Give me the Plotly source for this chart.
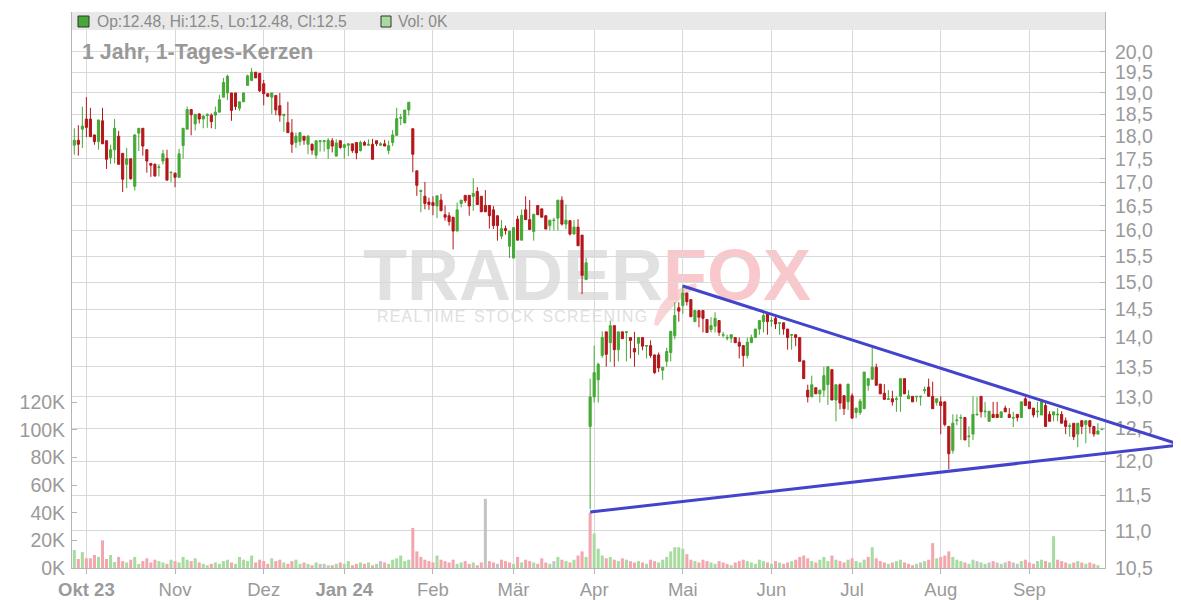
import math
import plotly.graph_objects as go

# ---------------- data ----------------
opens = [17.80,17.91,18.16,18.39,18.39,18.03,17.88,18.35,17.90,17.53,
17.70,18.00,17.62,17.38,17.50,16.91,18.07,18.18,17.70,17.40,
17.38,17.31,17.45,17.51,17.20,17.19,17.10,17.79,18.16,18.61,
18.28,18.51,18.39,18.47,18.48,18.48,18.55,18.90,19.00,19.00,
19.00,18.64,18.79,19.18,19.30,19.50,19.47,19.22,18.98,18.90,
18.94,18.70,18.47,18.31,18.08,17.86,17.88,18.00,17.82,17.82,
17.58,17.88,17.88,17.72,17.90,17.56,17.90,17.75,17.80,17.83,
17.86,17.68,17.86,17.80,17.82,17.90,17.80,17.83,17.68,17.86,
18.02,18.41,18.30,18.60,18.17,17.24,16.80,16.70,16.58,16.57,
16.50,16.62,16.32,16.30,16.27,15.99,16.55,16.72,16.72,16.70,
16.80,16.70,16.51,16.51,16.42,16.30,15.89,16.04,15.69,15.46,
16.23,15.81,16.42,16.22,15.98,16.51,16.44,16.30,16.10,16.20,
16.25,16.62,16.13,16.20,15.93,16.07,15.91,15.05,12.53,13.00,
13.28,13.69,14.10,13.91,14.21,13.79,14.10,14.09,14.00,13.81,
13.90,14.00,13.85,13.86,13.70,13.70,13.44,13.59,13.74,14.03,
14.53,14.57,14.80,14.68,14.28,14.48,14.48,14.32,14.14,14.20,
14.30,14.04,13.99,13.99,14.00,13.92,13.86,13.69,13.91,14.00,
14.15,14.28,14.42,14.29,14.34,14.25,14.26,14.15,14.04,14.05,
14.00,13.60,13.11,13.00,13.15,13.05,13.11,13.20,13.45,12.95,
13.20,13.02,12.92,13.02,12.75,12.75,12.81,13.19,13.29,13.49,
13.21,13.06,12.96,12.97,12.96,13.01,13.30,12.97,13.01,13.00,
13.00,13.10,13.16,13.01,12.91,12.92,12.92,12.53,12.16,12.62,
12.66,12.67,12.37,12.41,12.71,13.01,12.76,12.61,12.72,12.72,
12.67,12.82,12.72,12.66,12.72,12.67,12.97,12.92,12.82,12.76,
12.71,12.86,12.72,12.71,12.71,12.72,12.62,12.53,12.58,12.41,
12.62,12.56,12.62,12.53,12.41,12.48]

highs = [18.18,18.25,18.68,18.90,18.65,18.03,18.37,18.65,17.90,17.81,
18.39,18.12,17.62,17.74,17.50,18.05,18.18,18.18,17.70,17.40,
17.40,17.38,17.70,17.70,17.21,17.20,17.72,18.18,18.68,18.61,
18.50,18.51,18.48,18.52,18.52,18.68,18.96,19.36,19.44,19.00,
19.00,18.80,19.00,19.44,19.60,19.50,19.47,19.31,19.00,19.00,
18.94,19.00,18.50,18.79,18.39,18.08,18.08,18.00,18.03,17.84,
17.90,17.90,17.90,17.96,17.96,17.93,17.90,17.83,17.83,17.83,
17.86,17.90,17.90,17.93,17.94,17.90,17.87,17.92,17.90,18.14,
18.65,18.51,18.60,18.78,18.17,17.24,16.84,17.00,16.67,16.70,
16.71,16.75,16.51,16.37,16.27,16.57,16.62,16.72,16.72,17.08,
16.89,16.70,16.83,16.51,16.50,16.30,16.21,16.10,15.99,16.06,
16.30,16.43,16.70,16.62,16.33,16.51,16.44,16.30,16.21,16.26,
16.62,16.70,16.53,16.20,16.21,16.23,15.91,15.46,13.30,13.86,
13.57,14.11,14.10,14.30,14.21,14.10,14.10,14.10,14.00,14.10,
14.00,14.00,13.86,13.95,13.70,13.74,13.49,13.82,14.11,14.63,
14.63,14.95,14.80,14.68,14.48,14.48,14.48,14.32,14.36,14.45,
14.30,14.10,14.05,14.05,14.00,14.00,13.86,14.00,14.05,14.15,
14.30,14.48,14.42,14.36,14.37,14.26,14.26,14.15,14.05,14.05,
14.00,13.60,13.20,13.35,13.15,13.11,13.50,13.50,13.45,13.20,
13.22,13.02,13.21,13.06,12.82,12.97,13.41,13.30,13.82,13.55,
13.21,13.21,13.11,13.10,13.01,13.30,13.30,13.11,13.01,13.01,
13.01,13.17,13.30,13.25,12.97,13.01,12.92,12.53,12.72,12.72,
12.72,12.67,12.53,13.01,13.00,13.01,12.92,12.77,12.92,12.92,
12.76,12.86,12.82,12.76,12.72,12.92,13.01,12.92,12.82,12.92,
12.97,12.92,12.77,12.76,12.82,12.77,12.67,12.58,12.58,12.58,
12.62,12.62,12.62,12.53,12.58,12.50]

lows = [17.59,17.57,17.74,17.98,17.99,17.81,17.70,17.83,17.28,17.39,
17.40,17.38,16.79,16.87,17.05,16.82,17.67,17.57,17.20,17.11,
17.11,17.12,17.38,17.04,17.00,16.89,17.10,17.50,18.16,18.02,
18.13,18.29,18.18,18.19,18.18,18.16,18.55,18.90,18.83,18.35,
18.60,18.58,18.79,19.18,19.28,19.36,19.02,18.71,18.90,18.50,
18.48,18.33,18.10,18.08,17.63,17.74,17.79,17.81,17.60,17.59,
17.50,17.66,17.66,17.50,17.64,17.55,17.72,17.50,17.56,17.63,
17.49,17.66,17.79,17.78,17.49,17.78,17.78,17.78,17.60,17.78,
18.02,18.25,18.30,18.47,17.21,16.71,16.37,16.43,16.42,16.31,
16.25,16.40,16.20,16.10,15.63,15.99,16.47,16.56,16.30,16.40,
16.53,16.38,16.38,16.04,16.03,15.80,15.83,15.92,15.46,15.46,
15.81,15.81,16.22,16.02,15.80,16.32,16.27,16.03,16.00,16.00,
16.00,16.10,16.03,15.90,15.93,15.70,14.78,15.05,11.30,12.91,
12.91,13.65,13.50,13.58,13.50,13.59,13.98,13.59,13.64,13.50,
13.70,13.78,13.64,13.65,13.38,13.41,13.28,13.50,13.59,13.97,
14.28,14.42,14.57,14.36,14.28,14.18,14.09,14.09,14.09,14.09,
14.03,14.00,13.95,13.91,13.91,13.64,13.50,13.64,13.91,14.00,
14.05,14.09,14.05,14.19,14.15,14.05,14.05,13.79,13.79,13.85,
13.59,13.30,12.91,13.00,13.05,12.91,13.00,12.87,12.95,12.61,
12.80,12.71,12.79,12.66,12.66,12.71,12.81,13.10,13.29,13.19,
13.05,12.96,12.96,12.86,12.76,12.76,13.05,12.97,12.92,12.92,
12.86,13.05,13.01,12.81,12.86,12.41,12.53,11.88,12.11,12.55,
12.32,12.32,12.21,12.32,12.71,12.67,12.67,12.61,12.67,12.67,
12.67,12.76,12.67,12.52,12.61,12.67,12.86,12.81,12.67,12.67,
12.71,12.53,12.61,12.61,12.61,12.58,12.41,12.37,12.32,12.21,
12.41,12.27,12.42,12.37,12.41,12.48]

closes = [17.91,17.82,18.23,18.20,17.99,17.88,18.37,17.83,17.49,17.70,
18.18,17.38,17.06,17.50,17.07,18.03,18.18,17.78,17.45,17.36,
17.13,17.32,17.61,17.04,17.21,17.10,17.61,18.18,18.61,18.49,
18.50,18.39,18.46,18.50,18.33,18.55,18.84,19.25,19.40,18.59,
18.68,18.79,19.00,19.41,19.50,19.36,19.05,18.98,18.92,19.00,
18.60,18.48,18.50,18.08,17.82,18.00,18.08,17.91,18.00,17.69,
17.90,17.90,17.90,17.91,17.78,17.85,17.75,17.81,17.83,17.68,
17.63,17.86,17.80,17.82,17.49,17.83,17.83,17.78,17.79,18.03,
18.40,18.42,18.60,18.78,17.60,16.93,16.82,16.55,16.53,16.51,
16.71,16.40,16.27,16.18,15.99,16.42,16.62,16.61,16.50,16.76,
16.53,16.38,16.38,16.30,16.10,16.10,16.04,16.00,15.99,16.06,
15.81,16.31,16.22,16.02,16.33,16.32,16.27,16.03,16.21,16.21,
16.62,16.13,16.21,15.93,16.07,15.70,15.13,15.37,13.00,13.40,
13.54,14.00,13.71,14.21,13.79,14.10,13.98,14.10,13.95,13.75,
14.00,13.85,13.86,13.69,13.40,13.48,13.49,13.76,14.11,14.39,
14.47,14.80,14.64,14.37,14.48,14.36,14.34,14.09,14.21,14.34,
14.09,14.05,14.00,14.05,13.91,13.85,13.69,13.92,14.00,14.15,
14.30,14.39,14.28,14.30,14.24,14.26,14.15,14.00,14.05,14.00,
13.59,13.30,13.00,13.20,13.05,13.11,13.35,13.50,12.95,13.20,
12.90,12.81,13.21,12.66,12.82,12.93,13.41,13.30,13.49,13.19,
13.05,12.96,12.97,12.92,12.97,13.30,13.05,13.02,12.92,13.01,
13.01,13.12,13.01,12.81,12.97,12.86,12.56,12.11,12.58,12.63,
12.67,12.32,12.38,12.72,12.72,12.76,12.77,12.77,12.67,12.67,
12.76,12.76,12.67,12.67,12.67,12.92,12.86,12.81,12.71,12.77,
12.92,12.53,12.61,12.76,12.72,12.58,12.53,12.54,12.37,12.58,
12.53,12.62,12.53,12.41,12.46,12.50]

volumes_k = [13,6.5,11.5,7,7,9.4,8,20,6.5,9.4,4.3,8,
5,4,6,8,3,5,7,4,
6,5,4,3,6,5,4,8,6,5,
7,4,3,2,3,4,3,5,6,4,
3,8,6,5,9,4,6,5,3,7,
5,6,4,3,5,6,3,4,3,2,
4,3,3,2,2,3,4,3,5,2,
3,4,3,4,2,3,5,4,3,6,
7,9,5,6,29,12,8,6,5,4,
9,6,5,4,6,3,4,5,3,4,
2,4,50,5,4,3,6,5,4,3,
8,4,6,5,4,3,7,4,3,5,
8,6,5,4,6,9,12,8,40,25,
14,9,7,8,6,5,7,6,5,4,
5,4,3,6,5,4,6,8,12,15,
15,14,10,6,5,4,6,5,4,3,
5,4,3,2,4,5,6,5,4,3,
6,5,4,3,5,4,3,4,5,6,
8,9,7,5,4,6,8,5,9,6,
5,4,6,7,5,4,6,8,15,7,
5,4,3,4,5,6,4,3,2,3,
4,5,6,18,7,8,9,12,8,6,
5,4,3,6,5,4,3,4,5,4,
3,4,5,4,3,5,6,4,3,5,
6,5,4,23,6,5,4,3,4,5,
4,3,4,3,2,0]

month_idx = [3, 25, 47, 67, 89, 109, 129, 151, 173, 193, 215, 237]
month_labels = ["<b>Okt 23</b>", "Nov", "Dez", "<b>Jan 24</b>", "Feb", "Mär",
                "Apr", "Mai", "Jun", "Jul", "Aug", "Sep"]
price_ticks = [10.5, 11.0, 11.5, 12.0, 12.5, 13.0, 13.5, 14.0, 14.5, 15.0,
               15.5, 16.0, 16.5, 17.0, 17.5, 18.0, 18.5, 19.0, 19.5, 20.0]
vol_ticks = [0, 20, 40, 60, 80, 100, 120]

# trend lines: (candle index, price)
trend_upper = [(151, 14.93), (274.6, 12.245)]
trend_lower = [(128, 11.26), (274.6, 12.245)]

# ---------------- styling ----------------
GREEN = "#45a935"
RED = "#b3161b"
VOL_UP = "#a8dba0"
VOL_DN = "#f2a6ae"
VOL_EQ = "#c3c3c3"
TXT = "#9a9a9a"
GRID = "#d9d9d9"
AXLINE = "#b5b5b5"
FONT = "Liberation Sans, Arial, sans-serif"

n = len(closes)
x_idx = list(range(n))

vol_colors = []
for i in range(n):
    ref = opens[0] if i == 0 else closes[i - 1]
    if closes[i] > ref + 1e-9:
        vol_colors.append(VOL_UP)
    elif closes[i] < ref - 1e-9:
        vol_colors.append(VOL_DN)
    else:
        vol_colors.append(VOL_EQ)

X0, X1 = -0.57, n - 0.24
P0, P1 = 10.5, 21.02
L0, L1 = math.log10(P0), math.log10(P1)
V1 = 402

# plot area: 1033 x 556 px; helpers take offsets from the plot's top-left corner
PW, PH = 1033.0, 556.0


def xp(i):
    return (i - X0) / (X1 - X0)


def yp(p):
    return (math.log10(p) - L0) / (L1 - L0)


def px_x(v):
    return v / PW


def px_y(v):
    return 1 - v / PH


fig = go.Figure()
fig.add_trace(go.Bar(
    x=x_idx, y=volumes_k, yaxis="y", marker=dict(color=vol_colors, line=dict(width=0)),
    hoverinfo="skip", showlegend=False))
fig.add_trace(go.Candlestick(
    x=x_idx, open=opens, high=highs, low=lows, close=closes, yaxis="y2",
    increasing=dict(line=dict(color=GREEN, width=1), fillcolor=GREEN),
    decreasing=dict(line=dict(color=RED, width=1), fillcolor=RED),
    whiskerwidth=0, showlegend=False, hoverinfo="skip"))

shapes = []
# watermark (behind grid and data)
arc = "M %f %f Q %f %f %f %f Q %f %f %f %f Z" % (
    px_x(584), px_y(313), px_x(588), px_y(282), px_x(624), px_y(273),
    px_x(600), px_y(288), px_x(584), px_y(313))
shapes.append(dict(type="path", xref="paper", yref="paper", path=arc,
                   line=dict(color="#f9d3d6", width=4), fillcolor="#f9d3d6", layer="below"))
shapes.append(dict(type="rect", xref="paper", yref="paper",
                   x0=px_x(215), x1=px_x(815), y0=px_y(288), y1=px_y(224),
                   line=dict(width=0), fillcolor="rgba(0,0,0,0)", layer="below",
                   label=dict(text="TRADER<span style='color:#f8c8cc'>FOX</span>",
                              font=dict(size=72, color="#e1e1e1", family=FONT, weight="bold"),
                              textposition="middle center")))
shapes.append(dict(type="rect", xref="paper", yref="paper",
                   x0=px_x(299), x1=px_x(600), y0=px_y(311), y1=px_y(295),
                   line=dict(width=0), fillcolor="rgba(0,0,0,0)", layer="below",
                   label=dict(text="R\u200aE\u200aA\u200aL\u200aT\u200aI\u200aM\u200aE  S\u200aT\u200aO\u200aC\u200aK  S\u200aC\u200aR\u200aE\u200aE\u200aN\u200aI\u200aN\u200aG",
                              font=dict(size=15.8, color="#e0e0e0", family=FONT),
                              textposition="middle left")))
# legend strip
shapes.append(dict(type="rect", xref="paper", yref="paper", x0=0, x1=1, y0=px_y(18), y1=1,
                   line=dict(width=0), fillcolor="#e8e8e8", layer="above"))
shapes.append(dict(type="rect", xref="paper", yref="paper", x0=px_x(6), x1=px_x(17),
                   y0=px_y(15), y1=px_y(4),
                   line=dict(width=1, color="#333"), fillcolor=GREEN, layer="above"))
shapes.append(dict(type="rect", xref="paper", yref="paper", x0=px_x(309), x1=px_x(319),
                   y0=px_y(15), y1=px_y(4),
                   line=dict(width=1, color="#333"), fillcolor=VOL_UP, layer="above"))
# trend lines
for (a, b) in (trend_upper, trend_lower):
    shapes.append(dict(type="line", xref="paper", yref="paper",
                       x0=xp(a[0]), y0=yp(a[1]), x1=xp(b[0]), y1=yp(b[1]),
                       line=dict(color="#4343cc", width=3), layer="above"))

legend_txt = "Op:%g, Hi:%g, Lo:%g, Cl:%g" % (opens[-1], highs[-1], lows[-1], closes[-1])
vol_txt = "Vol: %gK" % volumes_k[-1]

annotations = [
    dict(xref="paper", yref="paper", x=px_x(23), y=px_y(9), text=legend_txt,
         showarrow=False, xanchor="left", yanchor="middle",
         font=dict(size=15.6, color="#8a8a8a", family=FONT)),
    dict(xref="paper", yref="paper", x=px_x(324), y=px_y(9), text=vol_txt,
         showarrow=False, xanchor="left", yanchor="middle",
         font=dict(size=15.6, color="#8a8a8a", family=FONT)),
    dict(xref="paper", yref="paper", x=px_x(8), y=px_y(40), text="<b>1 Jahr, 1-Tages-Kerzen</b>",
         showarrow=False, xanchor="left", yanchor="middle",
         font=dict(size=21.4, color="#999999", family=FONT)),
]

fig.update_layout(
    width=1181, height=600,
    margin=dict(l=64, r=84, t=4, b=40, autoexpand=False),
    paper_bgcolor="white", plot_bgcolor="white",
    showlegend=False, hovermode=False,
    bargap=0.25, boxgap=0.25,
    font=dict(family=FONT, color=TXT),
    shapes=shapes, annotations=annotations,
    xaxis=dict(range=[X0, X1], tickmode="array", tickvals=month_idx, ticktext=month_labels,
               showgrid=True, gridcolor=GRID, gridwidth=1, zeroline=False, automargin=False,
               ticks="outside", ticklen=5, tickcolor=AXLINE, showline=True, linecolor=AXLINE,
               tickfont=dict(size=18.5, color=TXT), rangeslider=dict(visible=False), fixedrange=True),
    yaxis=dict(range=[0, V1], tickmode="array", tickvals=vol_ticks,
               ticktext=["%dK" % v for v in vol_ticks], side="left", automargin=False,
               showgrid=False, zeroline=False, ticks="inside", ticklen=5, tickcolor=AXLINE,
               showline=True, linecolor=AXLINE, tickfont=dict(size=19.5, color=TXT),
               ticklabelstandoff=2),
    yaxis2=dict(type="log", range=[L0, L1], overlaying="y", side="right", tickmode="array",
                tickvals=price_ticks, ticktext=[("%.1f" % v).replace(".", ",") for v in price_ticks],
                showgrid=True, gridcolor=GRID, gridwidth=1, zeroline=False, automargin=False,
                ticks="inside", ticklen=5, tickcolor=AXLINE, showline=True, linecolor=AXLINE,
                tickfont=dict(size=19.5, color=TXT), ticklabelstandoff=5),
)

fig.write_html("out.html")
